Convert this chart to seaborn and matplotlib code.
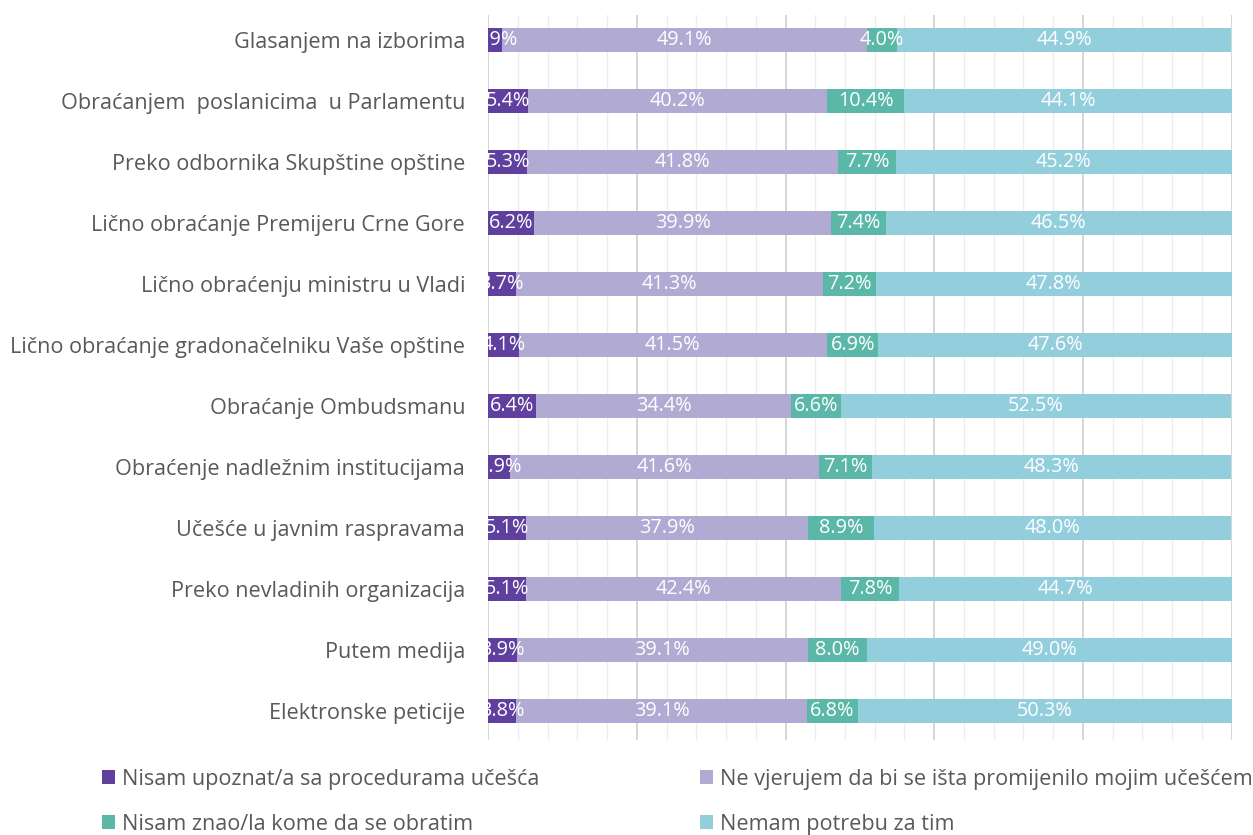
import matplotlib
matplotlib.use("Agg")
import matplotlib.pyplot as plt
from matplotlib.patches import Patch
from matplotlib.ticker import MultipleLocator
import seaborn as sns
import pandas as pd
import numpy as np

categories = [
    "Glasanjem na izborima",
    "Obraćanjem  poslanicima  u Parlamentu",
    "Preko odbornika Skupštine opštine",
    "Lično obraćanje Premijeru Crne Gore",
    "Lično obraćenju ministru u Vladi",
    "Lično obraćanje gradonačelniku Vaše opštine",
    "Obraćanje Ombudsmanu",
    "Obraćenje nadležnim institucijama",
    "Učešće u javnim raspravama",
    "Preko nevladinih organizacija",
    "Putem medija",
    "Elektronske peticije",
]
series_names = [
    "Nisam upoznat/a sa procedurama učešća",
    "Ne vjerujem da bi se išta promijenilo mojim učešćem",
    "Nisam znao/la kome da se obratim",
    "Nemam potrebu za tim",
]
nisam_upoznat = [1.9, 5.4, 5.3, 6.2, 3.7, 4.1, 6.4, 2.9, 5.1, 5.1, 3.9, 3.8]
ne_vjerujem = [49.1, 40.2, 41.8, 39.9, 41.3, 41.5, 34.4, 41.6, 37.9, 42.4, 39.1, 39.1]
nisam_znao = [4.0, 10.4, 7.7, 7.4, 7.2, 6.9, 6.6, 7.1, 8.9, 7.8, 8.0, 6.8]
nemam_potrebu = [44.9, 44.1, 45.2, 46.5, 47.8, 47.6, 52.5, 48.3, 48.0, 44.7, 49.0, 50.3]
colors = ["#60409E", "#B1ABD3", "#5BB8A8", "#93CEDD"]

series = [nisam_upoznat, ne_vjerujem, nisam_znao, nemam_potrebu]

sns.set_theme(style="white")
plt.rcParams["font.family"] = ["Open Sans", "DejaVu Sans"]

fig = plt.figure(figsize=(12.53, 8.35), dpi=100)
ax = fig.add_axes([0.3895, 0.1138, 0.5935, 0.8682])

left = np.zeros(len(categories))
for name, vals, col in zip(series_names, series, colors):
    df = pd.DataFrame({"cat": categories, "val": vals})
    sns.barplot(data=df, x="val", y="cat", orient="y", color=col,
                width=0.39, left=left.copy(), linewidth=0, ax=ax,
                saturation=1, zorder=3)
    for i, v in enumerate(vals):
        ax.text(left[i] + v / 2, i, f"{v:.1f}%", ha="center", va="center",
                color="white", fontsize=14.3, zorder=4, clip_on=True)
    left += np.array(vals)

ax.set_xlim(0, 100)
ax.set_ylim(11.48, -0.41)
ax.xaxis.set_major_locator(MultipleLocator(20))
ax.xaxis.set_minor_locator(MultipleLocator(4))
ax.grid(which="major", axis="x", color="#D0D0D0", linewidth=1.2, zorder=0)
ax.grid(which="minor", axis="x", color="#EDEDED", linewidth=1.0, zorder=0)
ax.grid(which="major", axis="y", visible=False)
ax.set_axisbelow(True)
ax.tick_params(axis="x", which="both", length=0, labelbottom=False)
ax.tick_params(axis="y", length=0, pad=16.5, labelsize=15.6, labelcolor="#595959")
ax.set_xlabel("")
ax.set_ylabel("")
for s in ax.spines.values():
    s.set_visible(False)

handles = [Patch(facecolor=c, edgecolor="none") for c in colors]
leg_kw = dict(frameon=False, fontsize=15.6, labelcolor="#595959",
              handlelength=0.62, handleheight=0.62, handletextpad=0.3,
              labelspacing=1.1, borderaxespad=0, borderpad=0)
fig.legend([handles[0], handles[2]], [series_names[0], series_names[2]],
           loc="upper left", bbox_to_anchor=(102 / 1253, 1 - 769 / 835), **leg_kw)
fig.legend([handles[1], handles[3]], [series_names[1], series_names[3]],
           loc="upper left", bbox_to_anchor=(700 / 1253, 1 - 769 / 835), **leg_kw)

fig.savefig("out.png", dpi=100)
